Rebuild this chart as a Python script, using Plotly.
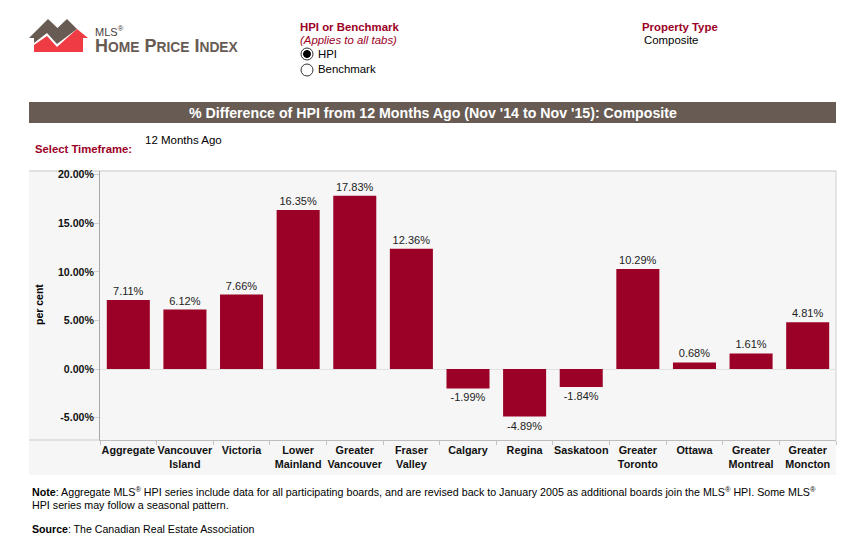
import plotly.graph_objects as go

# page is laid out in pixels, converted to paper coordinates
W, H = 866, 545

categories = ["Aggregate", "Vancouver<br>Island", "Victoria", "Lower<br>Mainland",
              "Greater<br>Vancouver", "Fraser<br>Valley", "Calgary", "Regina", "Saskatoon",
              "Greater<br>Toronto", "Ottawa", "Greater<br>Montreal", "Greater<br>Moncton"]
values = [7.11, 6.12, 7.66, 16.35, 17.83, 12.36, -1.99, -4.89, -1.84, 10.29, 0.68, 1.61, 4.81]
y_ticks = [-5, 0, 5, 10, 15, 20]
y_ticklabels = ["-5.00%", "0.00%", "5.00%", "10.00%", "15.00%", "20.00%"]

FONT = "Liberation Sans, Arial, sans-serif"
MAROON = "#9b0026"
BROWN = "#675b53"


def px(x):
    return x / W


def py(y):
    return 1 - y / H


def rect(x0, y0, x1, y1, fill):
    return dict(type="rect", xref="paper", yref="paper", x0=px(x0), x1=px(x1), y0=py(y0), y1=py(y1),
                fillcolor=fill, line=dict(width=0), layer="below")


def hline(x0, x1, y, color, width=1):
    return dict(type="line", xref="paper", yref="paper", x0=px(x0), x1=px(x1), y0=py(y), y1=py(y),
                line=dict(color=color, width=width), layer="below")


def poly(points, fill):
    path = "M " + " L ".join(f"{px(x):.5f},{py(y):.5f}" for x, y in points) + " Z"
    return dict(type="path", xref="paper", yref="paper", path=path, fillcolor=fill, line=dict(width=0), layer="above")


def circle(cx, cy, r, fill, line):
    return dict(type="circle", xref="paper", yref="paper", x0=px(cx - r), x1=px(cx + r), y0=py(cy + r), y1=py(cy - r),
                fillcolor=fill, line=dict(color=line, width=1), layer="above")


def label(x, y, text, size=11.4, color="#000000", anchor="left"):
    # annotations carry about 2px of padding on the left
    offset = 2 if anchor == "left" else 0
    return dict(xref="paper", yref="paper", x=px(x - offset), y=py(y), text=text, showarrow=False, xanchor=anchor,
                yanchor="middle", align=anchor, font=dict(family=FONT, size=size, color=color))


fig = go.Figure(
    go.Bar(
        x=categories,
        y=values,
        marker=dict(color=MAROON, line_width=0),
        text=[f"{v:.2f}%" for v in values],
        textposition="outside",
        textfont=dict(family=FONT, size=11, color="#222222"),
        cliponaxis=False,
        width=0.76,
    )
)

shapes = [
    rect(29, 171, 836, 475, "#f6f6f6"),
    rect(29, 102, 836, 123, BROWN),
    # edges of the chart band
    hline(29, 836, 171, "#d9d9d9", 1.5),
    hline(29, 100, 440, "#cccccc"),
    dict(type="line", xref="paper", yref="paper", x0=px(836), x1=px(836), y0=py(171), y1=py(440),
         line=dict(color="#d0d0d0", width=1), layer="below"),
    # logo
    poly([(29, 38), (48, 19), (57.5, 28), (67, 19), (77, 29), (57, 44), (47, 33), (34, 43), (34, 38)], BROWN),
    poly([(34, 52), (34, 45), (47, 36), (57, 47), (77, 29), (88, 38), (83, 38), (83, 52)], "#ee3b44"),
    # radio buttons
    circle(307, 54, 6, "#ffffff", "#333333"),
    circle(307, 54, 3.5, "#000000", "#000000"),
    circle(307, 70, 6, "#ffffff", "#333333"),
]

annotations = [
    label(95, 31, "MLS<sup>®</sup>", size=11, color="#4a403a"),
    label(95, 46, "<b>H<span style='font-size:13.8px'>OME</span> P<span style='font-size:13.8px'>RICE</span> I<span style='font-size:13.8px'>NDEX</span></b>",
          size=18, color=BROWN),
    label(300, 27, "<b>HPI or Benchmark</b>", color=MAROON),
    label(300, 40, "<i>(Applies to all tabs)</i>", color=MAROON),
    label(318, 54, "HPI"),
    label(318, 69, "Benchmark"),
    label(642, 27, "<b>Property Type</b>", color=MAROON),
    label(644, 40, "Composite"),
    label(433, 113, "<b>% Difference of HPI from 12 Months Ago (Nov '14 to Nov '15): Composite</b>", size=14.2,
          color="#ffffff", anchor="center"),
    label(35, 149, "<b>Select Timeframe:</b>", size=11.3, color=MAROON),
    label(145, 140, "12 Months Ago", size=11.5),
    label(39, 305, "<b>per cent</b>", size=10.5, anchor="center"),
    label(32, 491, "<b>Note</b>: Aggregate MLS<sup>®</sup> HPI series include data for all participating boards, and are revised back to January 2005 as additional boards join the MLS<sup>®</sup> HPI. Some MLS<sup>®</sup>",
          size=10.7),
    label(32, 505, "HPI series may follow a seasonal pattern.", size=10.7),
    label(32, 529, "<b>Source</b>: The Canadian Real Estate Association", size=10.6),
]
annotations[11]["textangle"] = -90

fig.update_layout(
    width=W,
    height=H,
    margin=dict(l=0, r=0, t=0, b=0, autoexpand=False),
    paper_bgcolor="#ffffff",
    plot_bgcolor="rgba(0,0,0,0)",
    showlegend=False,
    shapes=shapes,
    annotations=annotations,
    font=dict(family=FONT),
)
fig.update_xaxes(
    domain=[px(100), px(836)],
    anchor="y",
    automargin=False,
    tickson="boundaries",
    ticks="outside",
    ticklen=4,
    tickcolor="#c4c4c4",
    showline=True,
    linecolor="#bdbdbd",
    showgrid=False,
    tickangle=0,
    tickfont=dict(family=FONT, size=10.8, color="#111111", weight="bold"),
)
fig.update_yaxes(
    domain=[py(440), py(171)],
    automargin=False,
    range=[-7.3, 20.37],
    tickvals=y_ticks,
    ticktext=y_ticklabels,
    ticks="outside",
    ticklen=5,
    tickcolor="#d0d0d0",
    showline=True,
    linecolor="#a8a8a8",
    showgrid=False,
    zeroline=True,
    zerolinecolor="#e2e2e2",
    zerolinewidth=1,
    tickfont=dict(family=FONT, size=10.6, color="#111111", weight="bold"),
    ticklabelstandoff=-2,
)

fig.write_html("out.html", post_script="document.body.style.margin='0';", config=dict(displayModeBar=False))
